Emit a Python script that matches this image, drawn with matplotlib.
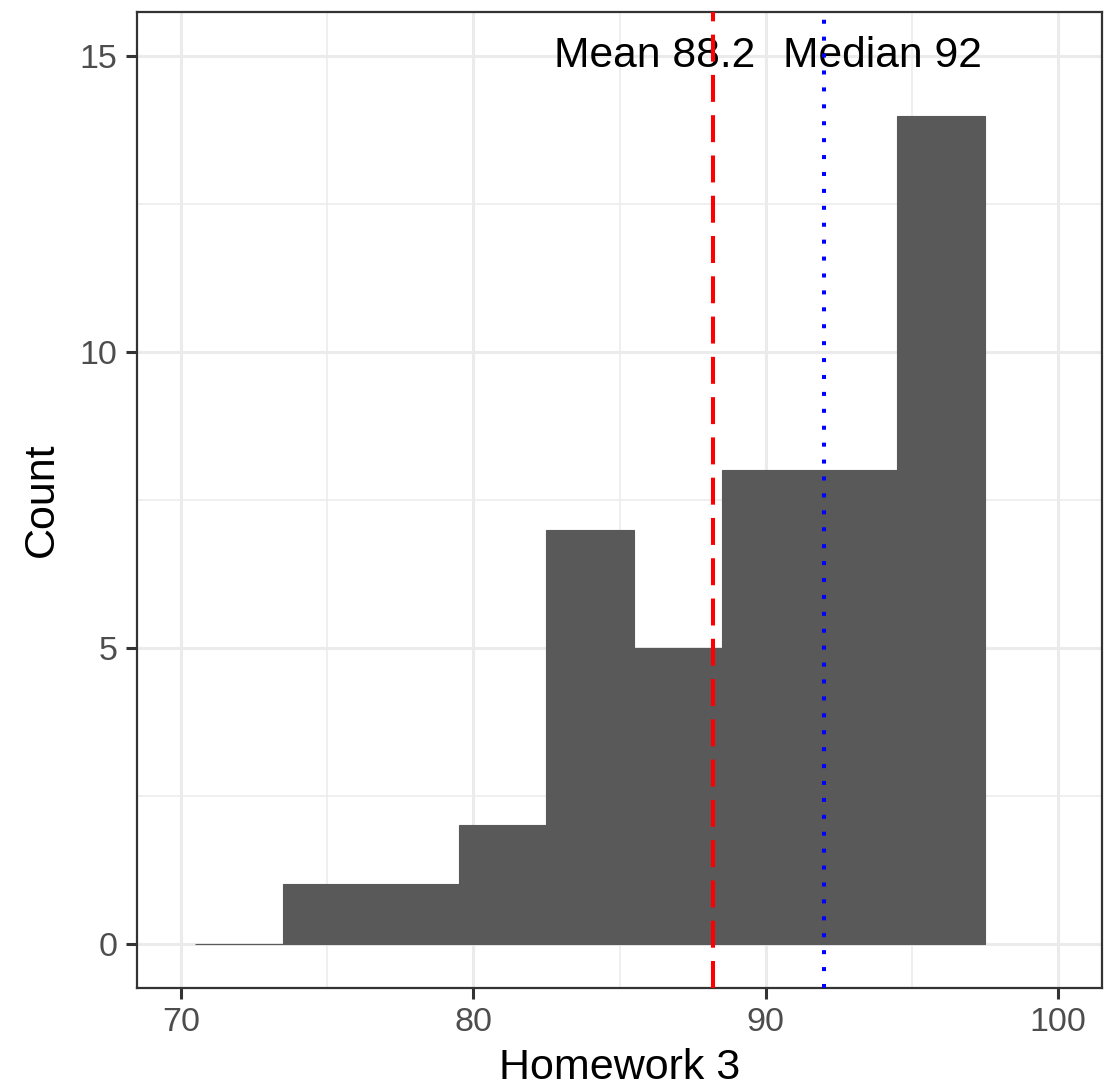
import matplotlib
matplotlib.use("Agg")
import matplotlib.pyplot as plt
import numpy as np

# Data
bin_edges = [70.5, 73.5, 76.5, 79.5, 82.5, 85.5, 88.5, 91.5, 94.5, 97.5]
counts = [0, 1, 1, 2, 7, 5, 8, 8, 14]
mean_val = 88.2
median_val = 92
mean_label = "Mean 88.2"
median_label = "Median 92"
x_ticks = [70, 80, 90, 100]
y_ticks = [0, 5, 10, 15]

plt.rcParams['font.family'] = ['Liberation Sans', 'DejaVu Sans']

fig = plt.figure(figsize=(11.16, 10.9), dpi=100)
ax = fig.add_axes([137/1116, 1 - 988/1090, (1102-137)/1116, (988-12)/1090])

lefts = np.array(bin_edges[:-1])
widths = np.diff(bin_edges)
ax.bar(lefts, counts, width=widths, align='edge', color='#595959',
       edgecolor='#595959', linewidth=0.8, zorder=2)

ax.set_xlim(68.5, 101.5)
ax.set_ylim(-0.75, 15.75)

# grid
ax.set_xticks(x_ticks)
ax.set_yticks(y_ticks)
ax.set_xticks([75, 85, 95], minor=True)
ax.set_yticks([2.5, 7.5, 12.5], minor=True)
ax.grid(which='major', color='#EBEBEB', linewidth=2.2, zorder=0)
ax.grid(which='minor', color='#EBEBEB', linewidth=1.1, zorder=0)
ax.set_axisbelow(True)

ax.tick_params(which='major', length=8, width=2.2, color='#333333',
               labelsize=24.5, labelcolor='#4D4D4D', pad=6)
ax.tick_params(which='minor', length=0)

for s in ax.spines.values():
    s.set_color('#333333')
    s.set_linewidth(1.6)

# annotation text (below lines)
ax.text(mean_val - 2, 15, mean_label, ha='center', va='center',
        fontsize=30.7, color='black', zorder=3)
ax.text(median_val + 2, 15, median_label, ha='center', va='center',
        fontsize=30.7, color='black', zorder=3)

ax.axvline(mean_val, color='#FF0000', linewidth=2.9,
           linestyle=(0, (6.7, 3.3)), zorder=4)
ax.axvline(median_val, color='#0000FF', linewidth=2.9,
           linestyle=(0, (1, 3.2)), zorder=4)

ax.set_xlabel('Homework 3', fontsize=31, labelpad=7)
ax.set_ylabel('Count', fontsize=31, labelpad=13)

fig.savefig('out.png', dpi=100)
